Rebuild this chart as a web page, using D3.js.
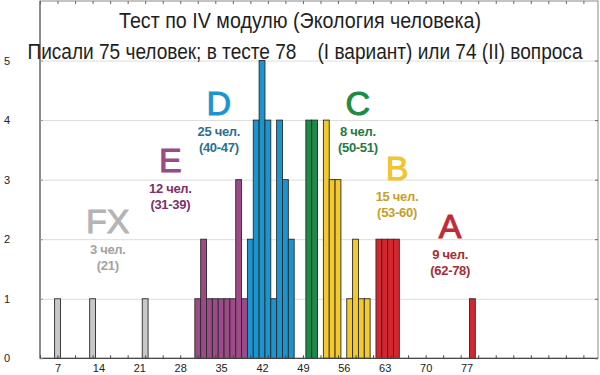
<!DOCTYPE html>
<html>
<head>
<meta charset="utf-8">
<script src="https://cdn.jsdelivr.net/npm/d3@7"></script>
<style>
  body { margin: 0; background: #fff; }
  svg { display: block; font-family: "Liberation Sans", Arial, sans-serif; }
</style>
</head>
<body>
<svg id="chart" width="600" height="375"></svg>
<script>
// ---- data ----
const titleLines = [
    "Тест по IV модулю (Экология человека)",
    "Писали 75 человек; в тесте 78    (I вариант) или 74 (II) вопроса"
];
const xTickLabels = [7, 14, 21, 28, 35, 42, 49, 56, 63, 70, 77];
const yTickLabels = [0, 1, 2, 3, 4, 5];

const groupNames  = ["FX", "E", "D", "C", "B", "A"];
const groupPeople = ["3 чел.", "12 чел.", "25 чел.", "8 чел.", "15 чел.", "9 чел."];
const groupRanges = ["(21)", "(31-39)", "(40-47)", "(50-51)", "(53-60)", "(62-78)"];

const fxScores = [7, 13, 22];
const fxCounts = [1, 1, 1];
const eScores = [31, 32, 33, 34, 35, 36, 37, 38, 39];
const eCounts = [1, 2, 1, 1, 1, 1, 1, 3, 1];
const dScores = [40, 41, 42, 43, 44, 45, 46, 47];
const dCounts = [2, 4, 5, 4, 1, 4, 3, 2];
const cScores = [50, 51];
const cCounts = [4, 4];
const bScores = [53, 54, 55, 56, 57, 58, 59, 60];
const bCounts = [4, 3, 3, 0, 1, 2, 1, 1];
const aScores = [62, 63, 64, 65, 78];
const aCounts = [2, 2, 2, 2, 1];

// where each group's caption sits, in data units (score, count)
const labelScore = [15.6, 26.3, 34.6, 58.4, 65.1, 74.2];
const labelLevel = [2.1, 3.13, 4.08, 4.08, 3.0, 2.02];

// ---- styling ----
const barFill   = ["#c8c8c8", "#9c4a88", "#1b95d0", "#1d8a48", "#f3c92e", "#d3262f"];
const bigColor  = ["#b4b4b4", "#9a4a86", "#1b95d0", "#1d8a48", "#f0c62c", "#c22a36"];
const smallColor = ["#a2a2a2", "#7c3068", "#2a6f90", "#1f7a44", "#c6a028", "#a52c36"];

const svg = d3.select("#chart");
const plotL = 40, plotR = 598, plotT = 1, plotB = 358.3;

const x = d3.scaleLinear().domain([4, 99.5]).range([plotL, plotR]);
const y = d3.scaleLinear().domain([0, 6]).range([plotB, plotT]);

const allScores = [fxScores, eScores, dScores, cScores, bScores, aScores];
const allCounts = [fxCounts, eCounts, dCounts, cCounts, bCounts, aCounts];
const bars = [];
allScores.forEach((sc, g) => sc.forEach((s, i) => {
    if (allCounts[g][i] > 0) bars.push({ score: s, count: allCounts[g][i], group: g });
}));

// gridlines
svg.append("g")
    .attr("transform", `translate(${plotL},0)`)
    .call(d3.axisLeft(y).tickValues([1, 2, 3, 4, 5]).tickSize(-(plotR - plotL)).tickFormat(""))
    .call(g => g.select(".domain").remove())
    .call(g => g.selectAll("line").attr("stroke", "#dcdcdc"));

// bars
svg.append("g").selectAll("rect")
    .data(bars)
    .join("rect")
    .attr("x", d => x(d.score - 0.5))
    .attr("width", d => x(d.score + 0.5) - x(d.score - 0.5))
    .attr("y", d => y(d.count))
    .attr("height", d => y(0) - y(d.count))
    .attr("fill", d => barFill[d.group])
    .attr("stroke", "#2a2a2a")
    .attr("stroke-width", 0.9);

// frame
svg.append("rect")
    .attr("x", plotL).attr("y", plotT)
    .attr("width", plotR - plotL).attr("height", plotB - plotT)
    .attr("fill", "none").attr("stroke", "#8a8a8a").attr("stroke-width", 1);
svg.append("line")
    .attr("x1", plotL).attr("x2", plotR).attr("y1", plotB).attr("y2", plotB)
    .attr("stroke", "#333");
svg.append("line")
    .attr("x1", plotL).attr("x2", plotL).attr("y1", plotT).attr("y2", plotB)
    .attr("stroke", "#555");

// minor ticks on bottom, top and right
const minor = d3.range(4, 99, 3);
svg.append("g")
    .attr("transform", `translate(0,${plotB})`)
    .call(d3.axisBottom(x).tickValues(minor).tickSize(-3).tickFormat(""))
    .call(g => g.select(".domain").remove())
    .call(g => g.selectAll("line").attr("stroke", "#444"));
svg.append("g")
    .attr("transform", `translate(0,${plotT})`)
    .call(d3.axisTop(x).tickValues(minor).tickSize(-3).tickFormat(""))
    .call(g => g.select(".domain").remove())
    .call(g => g.selectAll("line").attr("stroke", "#666"));
svg.append("g")
    .attr("transform", `translate(${plotR},0)`)
    .call(d3.axisRight(y).tickValues(yTickLabels).tickSize(-3).tickFormat(""))
    .call(g => g.select(".domain").remove())
    .call(g => g.selectAll("line").attr("stroke", "#666"));

// x labels
svg.append("g")
    .attr("transform", `translate(0,${plotB})`)
    .call(d3.axisBottom(x).tickValues(xTickLabels).tickSize(0).tickPadding(6))
    .call(g => g.select(".domain").remove())
    .call(g => g.selectAll("text")
        .attr("font-size", 11).attr("fill", "#222")
        .attr("font-family", "'Liberation Sans', Arial, sans-serif"));

// y labels
svg.append("g")
    .attr("transform", `translate(${plotL},0)`)
    .call(d3.axisLeft(y).tickValues(yTickLabels).tickSize(3).tickPadding(0).tickFormat(d3.format("d")))
    .call(g => g.select(".domain").remove())
    .call(g => g.selectAll("line").attr("stroke", "#999").attr("x2", 3))
    .call(g => g.selectAll("text")
        .attr("x", -36)
        .attr("text-anchor", "start")
        .attr("font-size", 11).attr("fill", "#222")
        .attr("font-family", "'Liberation Sans', Arial, sans-serif"));

// title, squeezed to the narrow face of the original
const titleX = [300, 305];
const titleY = [28, 59];
const titleW = [362, 555];
svg.append("g").selectAll("text")
    .data(titleLines)
    .join("text")
    .attr("x", (d, i) => titleX[i])
    .attr("y", (d, i) => titleY[i])
    .attr("text-anchor", "middle")
    .attr("font-size", 22)
    .attr("fill", "#1e1e1e")
    .attr("textLength", (d, i) => titleW[i])
    .attr("lengthAdjust", "spacingAndGlyphs")
    .style("white-space", "pre")
    .text(d => d);

// group captions
const caps = svg.append("g").selectAll("g")
    .data(groupNames)
    .join("g")
    .attr("transform", (d, i) => `translate(${x(labelScore[i])},${y(labelLevel[i])})`);

caps.append("text")
    .attr("text-anchor", "middle")
    .attr("font-size", 34)
    .attr("fill", (d, i) => bigColor[i])
    .attr("stroke", (d, i) => bigColor[i])
    .attr("stroke-width", 1)
    .text(d => d);

caps.append("text")
    .attr("text-anchor", "middle")
    .attr("y", 21)
    .attr("font-size", 13)
    .attr("font-weight", "bold")
    .attr("letter-spacing", -0.3)
    .attr("fill", (d, i) => smallColor[i])
    .text((d, i) => groupPeople[i]);

caps.append("text")
    .attr("text-anchor", "middle")
    .attr("y", 37)
    .attr("font-size", 13)
    .attr("font-weight", "bold")
    .attr("letter-spacing", -0.3)
    .attr("fill", (d, i) => smallColor[i])
    .text((d, i) => groupRanges[i]);
</script>
</body>
</html>
